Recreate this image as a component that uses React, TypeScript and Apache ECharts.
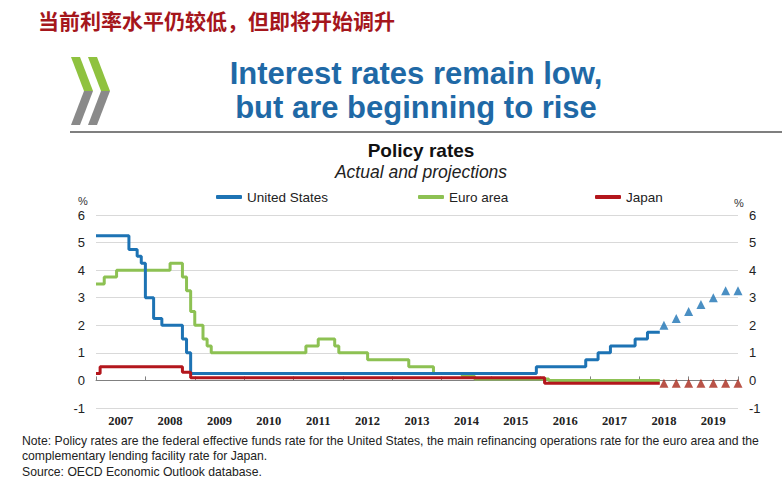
import React, { useEffect, useRef } from "react";
import * as echarts from "echarts";

// ---- data ----
const years = ["2007", "2008", "2009", "2010", "2011", "2012", "2013", "2014", "2015", "2016", "2017", "2018", "2019"];

const usDates = ["2007-01", "2007-09", "2007-11", "2007-12", "2008-01", "2008-03", "2008-05", "2008-10", "2008-11", "2008-12", "2015-12", "2016-12", "2017-03", "2017-06", "2017-12", "2018-03", "2018-06"];
const usRates = [5.25, 4.75, 4.5, 4.25, 3.0, 2.25, 2.0, 1.5, 1.0, 0.25, 0.5, 0.75, 1.0, 1.25, 1.5, 1.75, 1.75];

const euroDates = ["2007-01", "2007-03", "2007-06", "2008-07", "2008-10", "2008-11", "2008-12", "2009-01", "2009-03", "2009-04", "2009-05", "2011-04", "2011-07", "2011-11", "2011-12", "2012-07", "2013-05", "2013-11", "2014-06", "2014-09", "2016-03", "2018-06"];
const euroRates = [3.5, 3.75, 4.0, 4.25, 3.75, 3.25, 2.5, 2.0, 1.5, 1.25, 1.0, 1.25, 1.5, 1.25, 1.0, 0.75, 0.5, 0.25, 0.15, 0.05, 0.0, 0.0];

const japanDates = ["2007-01", "2007-02", "2008-10", "2008-12", "2016-02", "2018-06"];
const japanRates = [0.25, 0.5, 0.3, 0.1, -0.1, -0.1];

const projDates = ["2018-07", "2018-10", "2019-01", "2019-04", "2019-07", "2019-10", "2020-01"];
const usProj = [2.0, 2.25, 2.5, 2.75, 3.0, 3.25, 3.25];
const japanProj = [-0.1, -0.1, -0.1, -0.1, -0.1, -0.1, -0.1];

const yTicks = { min: -1, max: 6, interval: 1 };

const toYear = (s: string) => {
  const [y, m] = s.split("-").map(Number);
  return y + (m - 1) / 12;
};
const pairs = (d: string[], v: number[]) => d.map((s, i) => [toYear(s), v[i]]);

const US_COLOR = "#1d73b4";
const EU_COLOR = "#8dc153";
const JP_COLOR = "#b3161c";
const JP_TRI = "#a8281a";

export default function App() {
  const ref = useRef<HTMLDivElement>(null);
  useEffect(() => {
    if (!ref.current) return;
    const chart = echarts.init(ref.current, null, { renderer: "svg" });
    const axisLabelStyle = { fontFamily: "Liberation Sans", fontSize: 13, color: "#222" };
    const legendBase = {
      icon: "roundRect",
      itemWidth: 26,
      itemHeight: 4,
      top: 190,
      padding: 0,
      textStyle: { fontFamily: "Liberation Sans", fontSize: 13.5, color: "#222" },
    };
    chart.setOption({
      animation: false,
      backgroundColor: "#fff",
      grid: { left: 96, right: 44, top: 215, bottom: 81 },
      legend: [
        { ...legendBase, left: 216, data: ["United States"] },
        { ...legendBase, left: 418, data: ["Euro area"] },
        { ...legendBase, left: 595, data: ["Japan"] },
      ],
      xAxis: [
        {
          type: "value",
          min: 2007,
          max: 2020,
          interval: 1,
          axisLine: { show: true, onZero: true, lineStyle: { color: "#808080", width: 1 } },
          axisTick: { show: true, inside: true, length: 4, lineStyle: { color: "#808080" } },
          axisLabel: { show: false },
          splitLine: { show: false },
        },
        {
          type: "category",
          position: "bottom",
          data: years,
          boundaryGap: true,
          axisLine: { show: false },
          axisTick: { show: false },
          axisLabel: { fontFamily: "Liberation Sans Narrow", fontWeight: "bold", fontSize: 12.5, color: "#222", margin: 6 },
          splitLine: { show: false },
        },
      ],
      yAxis: [
        {
          type: "value",
          position: "left",
          ...yTicks,
          axisLine: { show: false },
          axisTick: { show: false },
          axisLabel: { ...axisLabelStyle, margin: 11 },
          splitLine: { lineStyle: { color: "#d9d9d9", width: 1 } },
        },
        {
          type: "value",
          position: "right",
          ...yTicks,
          axisLine: { show: false },
          axisTick: { show: false },
          axisLabel: { ...axisLabelStyle, margin: 11 },
          splitLine: { show: false },
        },
      ],
      series: [
        {
          name: "Euro area",
          type: "line",
          step: "end",
          data: pairs(euroDates, euroRates),
          symbol: "none",
          color: EU_COLOR,
          lineStyle: { color: EU_COLOR, width: 3 },
          z: 2,
        },
        {
          name: "United States",
          type: "line",
          step: "end",
          data: pairs(usDates, usRates),
          symbol: "none",
          color: US_COLOR,
          lineStyle: { color: US_COLOR, width: 3 },
          z: 3,
        },
        {
          name: "Japan",
          type: "line",
          step: "end",
          data: pairs(japanDates, japanRates),
          symbol: "none",
          color: JP_COLOR,
          lineStyle: { color: JP_COLOR, width: 3 },
          z: 4,
        },
        {
          name: "US projection",
          type: "scatter",
          data: pairs(projDates, usProj),
          symbol: "triangle",
          symbolSize: 9,
          itemStyle: { color: US_COLOR },
          clip: false,
          z: 5,
        },
        {
          name: "Japan projection",
          type: "scatter",
          data: pairs(projDates, japanProj),
          symbol: "triangle",
          symbolSize: 9,
          itemStyle: { color: JP_TRI },
          clip: false,
          z: 5,
        },
      ],
      graphic: [
        {
          type: "text",
          left: 38,
          top: 9,
          style: {
            text: "当前利率水平仍较低，但即将开始调升",
            fontFamily: "Noto Sans CJK SC",
            fontWeight: "bold",
            fontSize: 21,
            fill: "#a5161c",
          },
        },
        // OECD logo chevrons
        { type: "polygon", shape: { points: [[71, 57], [80, 57], [93, 91], [84, 91]] }, style: { fill: "#8fc23f" } },
        { type: "polygon", shape: { points: [[84, 91], [93, 91], [80, 125], [71, 125]] }, style: { fill: "#8a8a8a" } },
        { type: "polygon", shape: { points: [[88, 57], [97, 57], [110, 91], [101, 91]] }, style: { fill: "#8fc23f" } },
        { type: "polygon", shape: { points: [[101, 91], [110, 91], [97, 125], [88, 125]] }, style: { fill: "#8a8a8a" } },
        {
          type: "text",
          x: 416,
          y: 73,
          style: {
            text: "Interest rates remain low,",
            fontFamily: "Liberation Sans",
            fontWeight: "bold",
            fontSize: 31,
            fill: "#1f69a6",
            textAlign: "center",
            textVerticalAlign: "middle",
          },
        },
        {
          type: "text",
          x: 416,
          y: 107,
          style: {
            text: "but are beginning to rise",
            fontFamily: "Liberation Sans",
            fontWeight: "bold",
            fontSize: 31,
            fill: "#1f69a6",
            textAlign: "center",
            textVerticalAlign: "middle",
          },
        },
        { type: "line", shape: { x1: 70, y1: 132, x2: 782, y2: 132 }, style: { stroke: "#555", lineWidth: 1.5 } },
        {
          type: "text",
          x: 421,
          y: 150,
          style: {
            text: "Policy rates",
            fontFamily: "Liberation Sans",
            fontWeight: "bold",
            fontSize: 19,
            fill: "#111",
            textAlign: "center",
            textVerticalAlign: "middle",
          },
        },
        {
          type: "text",
          x: 421,
          y: 172,
          style: {
            text: "Actual and projections",
            fontFamily: "Liberation Sans",
            fontStyle: "italic",
            fontSize: 17.5,
            fill: "#222",
            textAlign: "center",
            textVerticalAlign: "middle",
          },
        },
        {
          type: "text",
          x: 83,
          y: 201,
          style: { text: "%", fontFamily: "Liberation Sans", fontSize: 11, fill: "#333", textAlign: "center", textVerticalAlign: "middle" },
        },
        {
          type: "text",
          x: 739,
          y: 203,
          style: { text: "%", fontFamily: "Liberation Sans", fontSize: 11, fill: "#333", textAlign: "center", textVerticalAlign: "middle" },
        },
        {
          type: "text",
          left: 22,
          top: 433,
          style: {
            text:
              "Note: Policy rates are the federal effective funds rate for the United States, the main refinancing operations rate for the euro area and the\ncomplementary lending facility rate for Japan.\nSource: OECD Economic Outlook database.",
            fontFamily: "Liberation Sans",
            fontSize: 12.2,
            lineHeight: 15.5,
            fill: "#222",
          },
        },
      ],
    });
    return () => chart.dispose();
  }, []);
  return (
    <div
      ref={ref}
      style={{ position: "fixed", left: 0, top: 0, width: 782, height: 489, background: "#fff" }}
    />
  );
}
